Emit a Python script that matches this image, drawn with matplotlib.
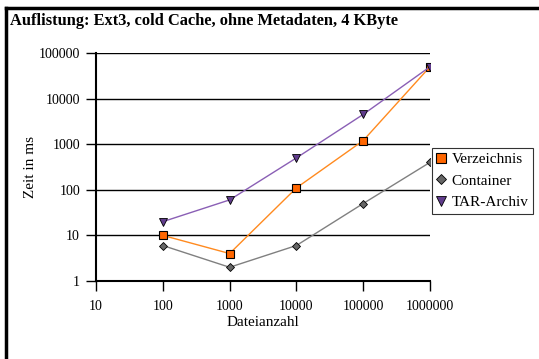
import matplotlib.pyplot as plt
from matplotlib.lines import Line2D
from matplotlib.ticker import FixedLocator, NullLocator

plt.rcParams['font.family'] = ['Liberation Serif', 'DejaVu Serif']

dateianzahl = [100, 1000, 10000, 100000, 1000000]
verzeichnis = [10, 4, 110, 1200, 50000]
container = [6, 2, 6, 50, 400]
tar_archiv = [20, 60, 500, 4500, 50000]

x_ticks = [10, 100, 1000, 10000, 100000, 1000000]
y_ticks = [1, 10, 100, 1000, 10000, 100000]

W, H = 539, 359
fig = plt.figure(figsize=(W / 100, H / 100), dpi=100)
ax = fig.add_axes([96 / W, 1 - 281 / H, (430 - 96) / W, (281 - 53) / H])

ax.set_xscale('log')
ax.set_yscale('log')
ax.set_xlim(10, 1000000)
ax.set_ylim(1, 100000)

for yv in y_ticks[1:]:
    ax.axhline(yv, color='black', lw=1, zorder=1)

ax.plot(dateianzahl, verzeichnis, color='#ff8a1f', lw=1, marker='s', ms=5.5,
        mfc='#ff6600', mec='black', mew=0.8, label='Verzeichnis', zorder=3)
ax.plot(dateianzahl, container, color='#808080', lw=1, marker='D', ms=4.5,
        mfc='#666666', mec='black', mew=0.6, label='Container', zorder=3)
ax.plot(dateianzahl, tar_archiv, color='#8a5fb5', lw=1, marker='v', ms=6,
        mfc='#603c8c', mec='black', mew=0.6, label='TAR-Archiv', zorder=4)

ax.xaxis.set_major_locator(FixedLocator(x_ticks))
ax.yaxis.set_major_locator(FixedLocator(y_ticks))
ax.xaxis.set_minor_locator(NullLocator())
ax.yaxis.set_minor_locator(NullLocator())
ax.set_xticklabels([str(v) for v in x_ticks])
ax.set_yticklabels([str(v) for v in y_ticks])
ax.tick_params(axis='both', direction='out', length=7.5, width=1, labelsize=10, color='black')
ax.tick_params(axis='y', pad=4)
ax.tick_params(axis='x', pad=6)

for s in ['top', 'right']:
    ax.spines[s].set_visible(False)
for s in ['left', 'bottom']:
    ax.spines[s].set_linewidth(1.5)

fig.text(263 / W, 1 - 322 / H, 'Dateianzahl', ha='center', va='center', fontsize=11)
fig.text(30 / W, 1 - 167 / H, 'Zeit in ms', ha='center', va='center', fontsize=11, rotation=90)

fig.text(10 / W, 1 - 21 / H, 'Auflistung: Ext3, cold Cache, ohne Metadaten, 4 KByte',
         ha='left', va='center', fontsize=11.8, fontweight='bold')

leg = ax.legend(loc='upper left', bbox_to_anchor=(432 / W, 1 - 148 / H),
                bbox_transform=fig.transFigure, borderaxespad=0, fancybox=False,
                frameon=True, edgecolor='black', fontsize=11, handlelength=0.6,
                handletextpad=0.4, labelspacing=0.5, borderpad=0.3,
                markerscale=1.2)
leg.get_frame().set_linewidth(0.8)
for h in leg.legend_handles:
    h.set_linestyle('none')

fig.add_artist(Line2D([6 / W, 1], [1 - 7.5 / H, 1 - 7.5 / H], color='black', lw=2.5,
                      transform=fig.transFigure))
fig.add_artist(Line2D([6 / W, 6 / W], [0, 1 - 7.5 / H], color='black', lw=2.5,
                      transform=fig.transFigure))

fig.savefig('out.png', dpi=100)
